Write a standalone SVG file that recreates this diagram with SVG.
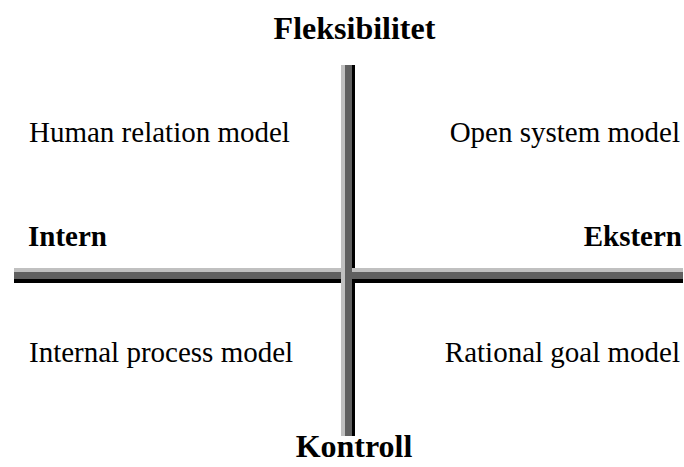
<svg xmlns="http://www.w3.org/2000/svg" width="684" height="467" viewBox="0 0 684 467">
<style>
.t{font-family:"Liberation Serif","Times New Roman",serif;fill:#000}
.r{font-size:29px}
.b{font-size:29px;font-weight:bold}
.h{font-size:32px;font-weight:bold}
.lg{fill:#c0c0c0}
.dg{fill:#606060}
.bk{fill:#000}
</style>
<rect width="684" height="467" fill="#fff"/>
<g id="axes">
<g id="horizontal-axis">
<rect class="lg" x="14" y="268" width="669" height="4"/>
<rect class="dg" x="14" y="272" width="669" height="7"/>
<rect class="bk" x="14" y="279" width="669" height="4"/>
</g>
<g id="vertical-axis">
<rect class="lg" x="341" y="65" width="4" height="371"/>
<rect class="dg" x="345" y="65" width="7" height="371"/>
<rect class="bk" x="352" y="65" width="3" height="203"/>
<rect class="bk" x="352" y="283" width="3" height="153"/>
</g>
</g>
<g id="label-top"><text class="t h" x="354.5" y="39" text-anchor="middle">Fleksibilitet</text></g>
<g id="label-bottom"><text class="t h" x="354" y="457" text-anchor="middle">Kontroll</text></g>
<g id="label-left"><text class="t b" x="28" y="246">Intern</text></g>
<g id="label-right"><text class="t b" x="682" y="246" text-anchor="end">Ekstern</text></g>
<g id="q-human"><text class="t r" x="29" y="142">Human relation model</text></g>
<g id="q-open"><text class="t r" x="680" y="142" text-anchor="end">Open system model</text></g>
<g id="q-internal"><text class="t r" x="29" y="362">Internal process model</text></g>
<g id="q-rational"><text class="t r" x="680" y="362" text-anchor="end">Rational goal model</text></g>
</svg>
